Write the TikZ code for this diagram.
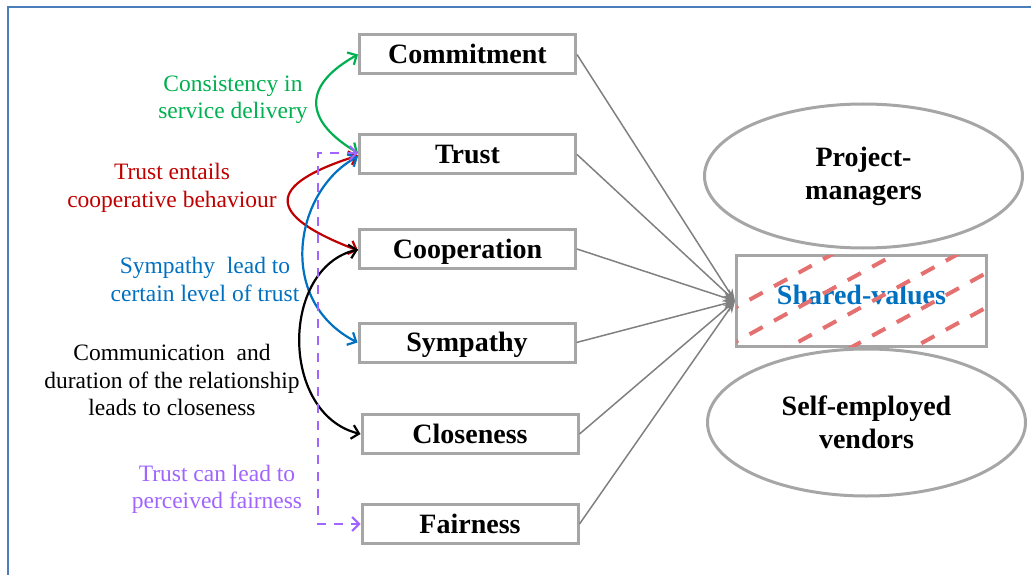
\documentclass[tikz,border=0pt]{standalone}
\usepackage{fontspec}
\setmainfont{Liberation Serif}
\usetikzlibrary{arrows.meta,shapes.geometric}

\definecolor{framebl}{RGB}{74,126,187}
\definecolor{boxgray}{RGB}{166,166,166}
\definecolor{linkgray}{RGB}{128,128,128}
\definecolor{cgreen}{RGB}{0,176,80}
\definecolor{cred}{RGB}{192,0,0}
\definecolor{cblue}{RGB}{0,112,192}
\definecolor{cpurple}{RGB}{160,100,255}
\definecolor{hatchred}{RGB}{228,112,112}

\begin{document}
\begin{tikzpicture}[x=1pt,y=-1pt,
  factor/.style={draw=boxgray, line width=3pt, minimum width=216pt, minimum height=39pt,
    inner sep=0pt, text height=22pt, text depth=3.4pt,
    font=\fontsize{28}{33}\selectfont\bfseries},
  group/.style={ellipse, draw=boxgray, line width=3pt, minimum width=318pt,
    minimum height=144pt, inner sep=0pt, align=center,
    font=\fontsize{28}{33}\selectfont\bfseries},
  note/.style={align=center, inner sep=0pt, font=\fontsize{23.5}{27.5}\selectfont},
  link/.style={draw=linkgray, line width=1.5pt, -{Stealth[length=12pt,width=9pt]}},
  rel/.style={line width=2.2pt,
    {Straight Barb[length=7pt,width=14pt]}-{Straight Barb[length=7pt,width=14pt]}},
  hatchline/.style={draw=hatchred, line width=4pt, dash pattern=on 15pt off 13pt},
]
\useasboundingbox (0,0) rectangle (1031,575);

% outer frame (top and left edges)
\draw[framebl, line width=2pt] (8,575) -- (8,7.3) -- (1031,7.3);

% the six relationship factors
\node[factor] (commit) at (467.5,54.5) {Commitment};
\node[factor] (trust)  at (467.5,154.5) {Trust};
\node[factor] (coop)   at (467.5,249) {Cooperation};
\node[factor] (symp)   at (467,342.5) {Sympathy};
\node[factor] (close)  at (470,434) {Closeness};
\node[factor] (fair)   at (470,524) {Fairness};

% the two parties and the shared values between them
\node[group] (pm)  at (863.5,176) {Project-\\managers};
\node[group, minimum height=147pt] (sev) at (866.5,422.5) {Self-employed\\vendors};
\node[draw=boxgray, line width=3pt, minimum width=250pt, minimum height=91pt,
      inner sep=0pt, text height=20pt, text depth=13.4pt, text=cblue,
      font=\fontsize{28}{33}\selectfont\bfseries] (shared) at (861.5,301) {Shared-values};

% dashed hatching across the shared-values box
\begin{scope}
  \clip ([shift={(1.5pt,1.5pt)}]shared.south west) rectangle ([shift={(-1.5pt,-1.5pt)}]shared.north east);
  \foreach \c in {712,746.5,781,815.5,850}
    \draw[hatchline] (725,{\c-0.55*725}) -- (1000,{\c-0.55*1000});
\end{scope}

% every factor feeds the shared values
\foreach \n in {commit,trust,coop,symp,close,fair}
  \draw[link] (\n.east) -- (shared.west);

% links between the factors
\draw[rel, cgreen] (commit.west) .. controls (303,85) and (303,120) .. ([yshift=1.5pt]trust.west);
\draw[rel, cred] ([yshift=-1pt]trust.west) .. controls (265,185) and (265,215) .. ([yshift=-1.5pt]coop.west);
\draw[rel, cblue] ([yshift=-2pt]trust.west) .. controls (295,190) and (275,300) .. (symp.west);
\draw[rel, black] ([yshift=-0.5pt]coop.west) .. controls (280,268) and (280,414) .. (close.west);
\coordinate (pbend) at (318,153);
\draw[rel, cpurple, line width=2pt, dash pattern=on 9pt off 8pt]
  ([yshift=1.5pt]trust.west) -- (pbend) |- (fair.west);

% labels of the links
\node[note, text=cgreen]  (lgreen)  at (233,100) {Consistency in\\service delivery};
\node[note, text=cred]    (lred)    at (172,188) {Trust entails\\cooperative behaviour};
\node[note, text=cblue]   (lblue)   at (205,279.5) {Sympathy\ \ lead to\\certain level of trust};
\node[note, text=black]   (lblack)  at (172,380) {Communication\ \ and\\duration of the relationship\\leads to closeness};
\node[note, text=cpurple] (lpurple) at (217,489.5) {Trust can lead to\\perceived fairness};
\end{tikzpicture}
\end{document}
